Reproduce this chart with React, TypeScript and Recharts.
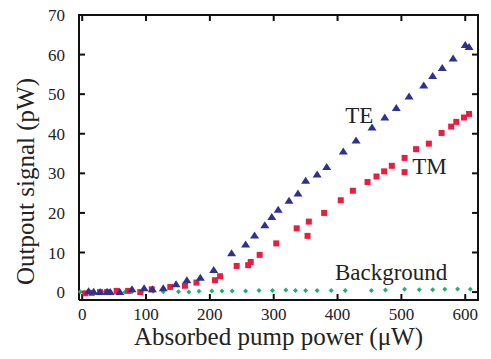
import React from 'react';
import {
  ScatterChart,
  Scatter,
  XAxis,
  YAxis,
  ReferenceDot,
} from 'recharts';

const teX = [10, 18, 28, 39, 44, 59, 78, 97, 110, 127, 147, 164, 185, 206, 234, 256, 270, 286, 297, 307, 324, 338, 350, 368, 383, 409, 429, 454, 474, 492, 512, 535, 549, 564, 581, 600, 606];
const teY = [0.2, 0.1, 0, 0.1, 0, 0, 0.7, 1, 0.7, 1, 2, 3, 3.6, 5.6, 9.8, 12, 14.3, 16.9, 19, 20.8, 23.1, 24.9, 28.1, 29.7, 31.6, 35.5, 38.3, 41.6, 44.1, 46.5, 49.4, 52.2, 54.6, 56.6, 59, 62.4, 61.9];

const tmX = [5, 15, 28, 39, 54, 72, 91, 109, 138, 161, 179, 208, 216, 242, 260, 264, 278, 304, 336, 353, 355, 379, 405, 424, 447, 461, 473, 485, 505, 505, 523, 543, 563, 578, 586, 598, 606];
const tmY = [-0.3, -0.2, 0, 0, 0.3, 0.3, 0, 0.7, 1.3, 1.6, 2.4, 3, 4, 6.6, 6.8, 7.6, 9.4, 12.3, 16.1, 14.2, 17.8, 20, 23.2, 25.6, 27.8, 29.2, 30.5, 31.9, 30.3, 33.9, 36.1, 37.5, 40.2, 41.8, 43, 44.1, 45];

const bgX = [-3, 12, 31, 44, 57, 67, 78, 93, 111, 127, 151, 167, 183, 203, 219, 235, 256, 277, 298, 319, 334, 350, 368, 390, 412, 453, 475, 505, 528, 549, 568, 588, 608];
const bgY = [0.1, 0.1, 0.1, 0, 0, 0, 0.1, 0, 0.2, 0.1, 0.1, 0, 0.2, 0.3, 0.3, 0.3, 0.3, 0.4, 0.4, 0.5, 0.4, 0.4, 0.4, 0.4, 0.4, 0.4, 0.5, 0.7, 0.6, 0.6, 0.7, 0.8, 0.7];

const xTicks = [0, 100, 200, 300, 400, 500, 600];
const yTicks = [0, 10, 20, 30, 40, 50, 60, 70];

const X_MIN = -5;
const X_MAX = 620;
const Y_MIN = -2;
const Y_MAX = 70;

const teData = teX.map((x, i) => ({ x, y: teY[i] }));
const tmData = tmX.map((x, i) => ({ x, y: tmY[i] }));
const bgData = bgX.map((x, i) => ({ x, y: bgY[i] }));

// box around the plot and inward tick marks, placed through the axis scales
const frameData = [
  { x: X_MIN, y: Y_MIN },
  { x: X_MIN, y: Y_MAX },
  { x: X_MAX, y: Y_MAX },
  { x: X_MAX, y: Y_MIN },
  { x: X_MIN, y: Y_MIN },
];
const bottomTicks = xTicks.map((x) => ({ x, y: Y_MIN }));
const topTicks = xTicks.map((x) => ({ x, y: Y_MAX }));
const leftTicks = yTicks.map((y) => ({ x: X_MIN, y }));
const rightTicks = yTicks.map((y) => ({ x: X_MAX, y }));

const FONT = 'Liberation Serif, serif';
const INK = '#111111';

const Triangle = (props: any) => {
  const { cx, cy } = props;
  return (
    <polygon
      points={`${cx},${cy - 4} ${cx + 4.5},${cy + 3} ${cx - 4.5},${cy + 3}`}
      fill="#2e3192"
    />
  );
};

const Square = (props: any) => {
  const { cx, cy } = props;
  return <rect x={cx - 3} y={cy - 3} width={6} height={6} fill="#ec1c3f" />;
};

const Diamond = (props: any) => {
  const { cx, cy } = props;
  return (
    <polygon
      points={`${cx},${cy - 2.5} ${cx + 2.5},${cy} ${cx},${cy + 2.5} ${cx - 2.5},${cy}`}
      fill="#1db36b"
    />
  );
};

const NoMark = () => <g />;
const TickUp = (p: any) => <rect x={p.cx - 1} y={p.cy - 6} width={2} height={6} fill={INK} />;
const TickDown = (p: any) => <rect x={p.cx - 1} y={p.cy} width={2} height={6} fill={INK} />;
const TickRight = (p: any) => <rect x={p.cx} y={p.cy - 1} width={6} height={2} fill={INK} />;
const TickLeft = (p: any) => <rect x={p.cx - 6} y={p.cy - 1} width={6} height={2} fill={INK} />;

const tickStyle = { fontSize: 17, fill: '#222', fontFamily: FONT };
const noteStyle = { fontSize: 23, fill: '#222', fontFamily: FONT };

const YLabel = (props: any) => {
  const { viewBox } = props;
  const x = viewBox.x + 25;
  const y = viewBox.y + viewBox.height / 2 + 24;
  return (
    <text
      x={x}
      y={y}
      transform={`rotate(-90, ${x}, ${y})`}
      textAnchor="middle"
      dominantBaseline="central"
      fontSize={25}
      fill="#222"
      fontFamily={FONT}
    >
      Outpout signal (pW)
    </text>
  );
};

export default function App() {
  return (
    <div style={{ position: 'absolute', left: 0, top: 0 }}>
      <ScatterChart
        width={491}
        height={359}
        margin={{ top: 15, right: 13, left: 0, bottom: 0 }}
      >
        <XAxis
          type="number"
          dataKey="x"
          domain={[X_MIN, X_MAX]}
          ticks={xTicks}
          height={59}
          tick={tickStyle}
          tickLine={false}
          tickSize={0}
          tickMargin={8}
          stroke={INK}
          strokeWidth={2}
          label={{
            value: 'Absorbed pump power (\u03bcW)',
            position: 'insideBottom',
            offset: 14,
            style: { fontSize: 25, fill: '#222', fontFamily: FONT },
          }}
        />
        <YAxis
          type="number"
          dataKey="y"
          domain={[Y_MIN, Y_MAX]}
          ticks={yTicks}
          width={79}
          tick={tickStyle}
          tickLine={false}
          tickSize={0}
          tickMargin={14}
          stroke={INK}
          strokeWidth={2}
          label={<YLabel />}
        />
        <Scatter
          data={frameData}
          shape={NoMark}
          line={{ stroke: INK, strokeWidth: 2 }}
          lineType="joint"
          isAnimationActive={false}
        />
        <Scatter data={bottomTicks} shape={TickUp} isAnimationActive={false} />
        <Scatter data={topTicks} shape={TickDown} isAnimationActive={false} />
        <Scatter data={leftTicks} shape={TickRight} isAnimationActive={false} />
        <Scatter data={rightTicks} shape={TickLeft} isAnimationActive={false} />
        <Scatter data={bgData} shape={Diamond} isAnimationActive={false} />
        <Scatter data={tmData} shape={Square} isAnimationActive={false} />
        <Scatter data={teData} shape={Triangle} isAnimationActive={false} />
        <ReferenceDot x={434} y={44.8} r={0} label={{ value: 'TE', position: 'center', style: noteStyle }} />
        <ReferenceDot x={544} y={31.9} r={0} label={{ value: 'TM', position: 'center', style: noteStyle }} />
        <ReferenceDot x={484} y={5.1} r={0} label={{ value: 'Background', position: 'center', style: noteStyle }} />
      </ScatterChart>
    </div>
  );
}
